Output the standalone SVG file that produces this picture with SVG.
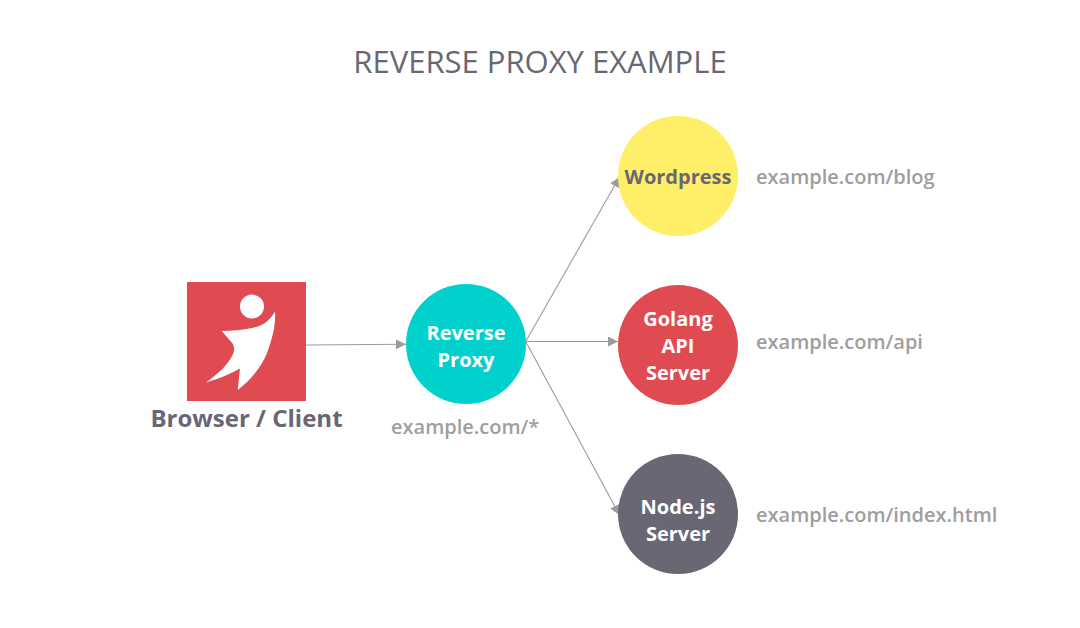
<svg xmlns="http://www.w3.org/2000/svg" width="1080" height="628" viewBox="0 0 1080 628">
<style>
text{font-family:"Open Sans","Noto Sans",sans-serif}
.b{font-weight:700;font-size:20px;fill:#fff;text-anchor:middle}
.d{fill:#696773}
.u{font-size:20px;font-weight:600;fill:#9e9e9e}
.c{fill:none;stroke:#9b9b9b;stroke-width:1.1}
</style>
<defs><marker id="a" markerUnits="userSpaceOnUse" markerWidth="11" markerHeight="10" refX="10" refY="5" orient="auto"><path d="M0 0L10 5L0 10Z" fill="#9b9b9b"/></marker></defs>
<rect width="1080" height="628" fill="#fff"/>
<text x="540" y="73" text-anchor="middle" font-size="31" fill="#696773">REVERSE PROXY EXAMPLE</text>
<g id="connectors">
<path class="c" d="M306 345L406 344.3" marker-end="url(#a)"/>
<path class="c" d="M526 341L619.500 177" marker-end="url(#a)"/>
<path class="c" d="M526 341.500L618 341.500" marker-end="url(#a)"/>
<path class="c" d="M526 342L619.500 515" marker-end="url(#a)"/>
</g>
<g id="client">
<rect x="187" y="282" width="119" height="119" fill="#df4b50"/>
<circle cx="252" cy="306.500" r="12" fill="#fff"/>
<path d="M275 311.500C269 322 262 326 252 328C243 330 232 331 221.700 331L233 344C235 349 234 353 231 358C225 368 216 375 206 382.500C219 379 230 374 240 368.500L237.700 390C250 381 261 368 267 353C272 340 276 325 275 311.500Z" fill="#fff"/>
<text x="246.500" y="427" text-anchor="middle" font-size="24" font-weight="700" class="d">Browser / Client</text>
</g>
<g id="proxy">
<circle cx="466" cy="344" r="60" fill="#00d1cd"/>
<text class="b" x="466" y="340">Reverse</text>
<text class="b" x="466" y="367">Proxy</text>
<text class="u" x="391" y="434">example.com/*</text>
</g>
<g id="wordpress">
<circle cx="678" cy="176" r="60" fill="#ffee67"/>
<text class="b" x="678" y="184" style="fill:#696773">Wordpress</text>
<text class="u" x="756" y="184">example.com/blog</text>
</g>
<g id="golang">
<circle cx="678" cy="345" r="60" fill="#df4b50"/>
<text class="b" x="678" y="326">Golang</text>
<text class="b" x="678" y="353">API</text>
<text class="b" x="678" y="380">Server</text>
<text class="u" x="756" y="349">example.com/api</text>
</g>
<g id="node">
<circle cx="678" cy="514" r="60" fill="#696773"/>
<text class="b" x="678" y="514">Node.js</text>
<text class="b" x="678" y="541">Server</text>
<text class="u" x="756" y="522">example.com/index.html</text>
</g>
</svg>
